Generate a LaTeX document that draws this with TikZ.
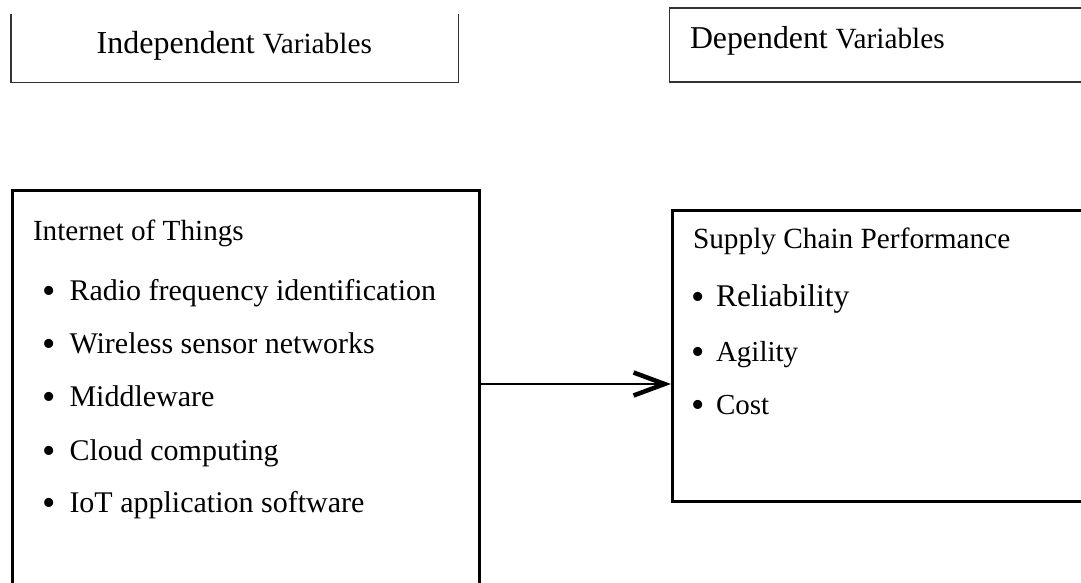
\documentclass[tikz,border=0pt]{standalone}
\usepackage{fontspec}
\setmainfont{Liberation Serif}
\usetikzlibrary{arrows.meta}
\begin{document}
\begin{tikzpicture}[x=1pt,y=1pt,
  thinbox/.style={draw=black!80, line width=1.3pt},
  thickbox/.style={draw=black, line width=3.3pt},
  boxshape/.style={anchor=north west, inner sep=0pt, rectangle},
  lbl/.style={anchor=base west, inner sep=0pt, outer sep=0pt},
  bul/.style={anchor=base, inner sep=0pt, outer sep=0pt, font=\fontsize{38}{44}\selectfont},
  conn/.style={line width=1.5pt, -{Straight Barb[length=31pt,width=23pt,line width=4.5pt]}}]
\useasboundingbox (0,0) rectangle (1081,-583);
\clip (0,0) rectangle (1081,-583);
% top boxes
\node[boxshape, minimum width=447pt, minimum height=68pt] (ivbox) at (11,-14) {};
\draw[thinbox] (ivbox.north west) -- (ivbox.south west) -- (ivbox.south east) -- (ivbox.north east);
\node[boxshape, thinbox, minimum width=450pt, minimum height=74pt] (dvbox) at (669,-7.5) {};
\node[lbl] (ivtext) at (96.7,-54) {\fontsize{32}{38}\selectfont Independent \fontsize{29.3}{35}\selectfont Variables};
\node[lbl] (dvtext) at (690,-48.3) {\fontsize{31.8}{38}\selectfont Dependent \fontsize{29.3}{35}\selectfont Variables};
% main boxes
\node[boxshape, thickbox, minimum width=466.7pt, minimum height=430pt] (iot) at (11,-189) {};
\node[boxshape, thickbox, minimum width=460pt, minimum height=291pt] (scp) at (671,-209) {};
% left contents
\node[lbl] (iottitle) at (33,-240) {\fontsize{29.2}{35}\selectfont Internet of Things};
\node[bul] (b1) at (49,-303) {•};
\node[lbl] (i1) at (69.5,-300) {\fontsize{30}{36}\selectfont Radio frequency identification};
\node[bul] (b2) at (49,-356.3) {•};
\node[lbl] (i2) at (69.5,-353.3) {\fontsize{30}{36}\selectfont Wireless sensor networks};
\node[bul] (b3) at (49,-409.7) {•};
\node[lbl] (i3) at (69.5,-406.7) {\fontsize{30}{36}\selectfont Middleware};
\node[bul] (b4) at (49,-463) {•};
\node[lbl] (i4) at (69.5,-460) {\fontsize{30}{36}\selectfont Cloud computing};
\node[bul] (b5) at (49,-515.7) {•};
\node[lbl] (i5) at (69.5,-512.7) {\fontsize{30}{36}\selectfont IoT application software};
% right contents
\node[lbl] (scptitle) at (693,-248) {\fontsize{29.3}{35}\selectfont Supply Chain Performance};
\node[bul] (r1b) at (698,-309.5) {•};
\node[lbl] (r1) at (716,-306.5) {\fontsize{31.6}{38}\selectfont Reliability};
\node[bul] (r2b) at (698,-364.8) {•};
\node[lbl] (r2) at (716,-361.8) {\fontsize{29}{35}\selectfont Agility};
\node[bul] (r3b) at (698,-417.3) {•};
\node[lbl] (r3) at (716,-414.3) {\fontsize{29}{35}\selectfont Cost};
% connector
\draw[conn] (iot.east |- 0,-384) -- (scp.west |- 0,-384);
\end{tikzpicture}
\end{document}
